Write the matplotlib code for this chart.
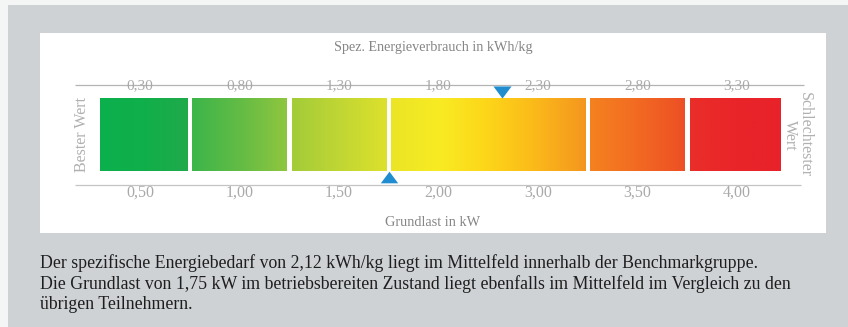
import numpy as np
import matplotlib.pyplot as plt
from matplotlib.colors import LinearSegmentedColormap
from matplotlib.patches import Rectangle

# Skalen: obere Achse = spez. Energieverbrauch, untere Achse = Grundlast
top_labels = ['0,30', '0,80', '1,30', '1,80', '2,30', '2,80', '3,30']
top_values = [0.30, 0.80, 1.30, 1.80, 2.30, 2.80, 3.30]
bottom_labels = ['0,50', '1,00', '1,50', '2,00', '3,00', '3,50', '4,00']
bottom_values = [0.50, 1.00, 1.50, 2.00, 3.00, 3.50, 4.00]

# Farbfelder: (erster Slot, letzter Slot, Farbverlauf)
segments = [
    (0, 0, ['#0bb04c', '#10af4b', '#20aa4a']),
    (1, 1, ['#3cb54a', '#62bc45', '#8fc63f']),
    (2, 2, ['#a2cc39', '#c0d634', '#dde12b']),
    (3, 4, ['#ebe526', '#f8eb23', '#fdd519', '#fbb81a', '#f4961f']),
    (5, 5, ['#f5821f', '#f26a22', '#ed4f25']),
    (6, 6, ['#ea2e29', '#e92529', '#e82229']),
]

energy = 2.12      # kWh/kg
grundlast = 1.75   # kW

paragraph = ("Der spezifische Energiebedarf von 2,12 kWh/kg liegt im Mittelfeld innerhalb der Benchmarkgruppe.\n"
             "Die Grundlast von 1,75 kW im betriebsbereiten Zustand liegt ebenfalls im Mittelfeld im Vergleich zu den\n"
             "übrigen Teilnehmern.")

W, H = 848, 327
fig = plt.figure(figsize=(W / 100, H / 100), dpi=100)
fig.patch.set_facecolor('#f4f5f5')
fig.patches.append(Rectangle((8 / W, 0), 1, 1 - 5 / H, transform=fig.transFigure,
                             facecolor='#cfd2d5', edgecolor='none', zorder=-5))

# weisses Feld mit der Skala
ax = fig.add_axes([40 / W, 1 - 233 / H, (826 - 40) / W, (233 - 33) / H])
ax.set_zorder(2)
ax.axis('off')
ax.add_patch(Rectangle((0, 0), 1, 1, transform=ax.transAxes, facecolor='white',
                       edgecolor='none', zorder=0))

bar_top, bar_bot = 65, 138
gap = 0.025
first_left, last_right = -0.40, 6.43
for s0, s1, cols in segments:
    x0 = first_left if s0 == 0 else s0 - 0.5 + gap
    x1 = last_right if s1 == len(top_labels) - 1 else s1 + 0.5 - gap
    cmap = LinearSegmentedColormap.from_list('seg', cols)
    grad = np.linspace(0, 1, 256).reshape(1, -1)
    ax.imshow(grad, cmap=cmap, aspect='auto', extent=(x0, x1, bar_bot, bar_top),
              interpolation='bilinear', zorder=2)
ax.set_xlim((40 - 140) / 99.5, (826 - 140) / 99.5)
ax.set_ylim(200, 0)

# Achsenlinien
ax.hlines(52, -0.653, 6.673, color='#b4b4b4', lw=0.9, zorder=1)
ax.hlines(152, -0.653, 6.643, color='#c4c4c4', lw=0.9, zorder=1)

serif = ['Liberation Serif', 'DejaVu Serif']
slots = np.arange(len(top_labels))
for s, lab in zip(slots, top_labels):
    ax.text(s, 53, lab, ha='center', va='center', fontsize=11, color='#a9a9a9',
            family=serif, zorder=3)
for s, lab in zip(slots, bottom_labels):
    ax.text(s, 160, lab, ha='center', va='center', fontsize=11.5, color='#a9a9a9',
            family=serif, zorder=3)

ax.text(0.5, 14, 'Spez. Energieverbrauch in kWh/kg', transform=ax.get_yaxis_transform(),
        ha='center', va='center', fontsize=10.2, color='#858585', family=serif)
ax.text(0.5, 189, 'Grundlast in kW', transform=ax.get_yaxis_transform(),
        ha='center', va='center', fontsize=10.3, color='#858585', family=serif)

ax.text(-0.58, 102, 'Bester Wert', rotation=90, ha='center', va='center',
        fontsize=11.5, color='#b0b0b0', family=serif)
ax.text(6.61, 102, 'Schlechtester\nWert', rotation=270, ha='center', va='center',
        fontsize=11.5, color='#b0b0b0', family=serif, linespacing=0.9)

# Markierungen: Wert auf die Slot-Skala abbilden
tri_down = [(-1, 0.67), (1, 0.67), (0, -0.67)]
tri_up = [(-1, -0.67), (1, -0.67), (0, 0.67)]
x_energy = np.interp(energy, top_values, slots)
x_grund = np.interp(grundlast, bottom_values, slots)
ax.plot([x_energy], [59], marker=tri_down, ms=13, color='#1f8dd0', mec='none', zorder=4)
ax.plot([x_grund], [144], marker=tri_up, ms=12.5, color='#1f8dd0', mec='none', zorder=4)

fig.text(40 / W, 1 - 254 / H, paragraph, ha='left', va='top', fontsize=12.8,
         color='#1e1e1e', family=serif, linespacing=1.25)

fig.savefig('out.png', dpi=100, facecolor=fig.get_facecolor())
